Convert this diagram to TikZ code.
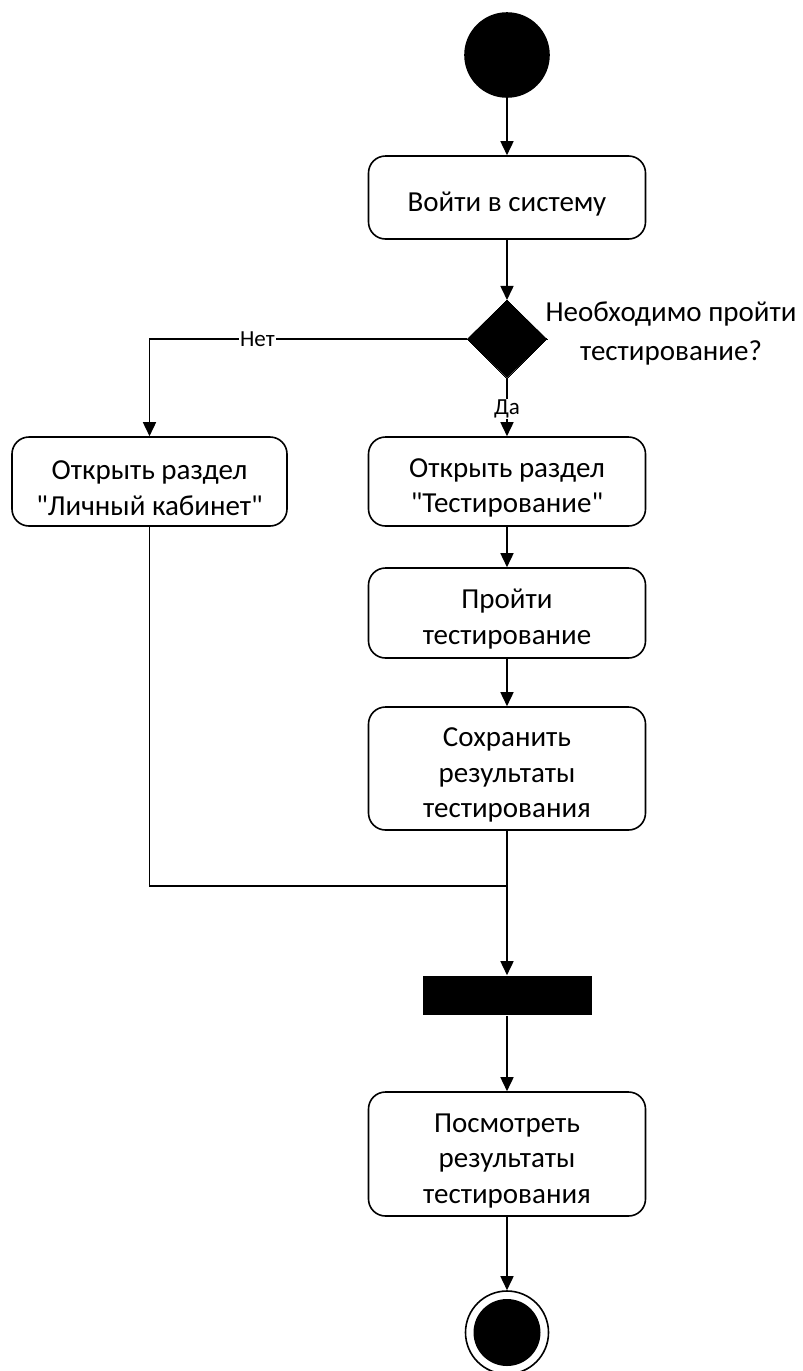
\documentclass[tikz,border=0pt]{standalone}
\usepackage{fontspec}
\setmainfont{Carlito}[Ligatures=TeXOff]
\usetikzlibrary{shapes.geometric,arrows.meta}
\newcommand{\upstrut}{\rule{0pt}{32pt}}
\begin{document}
\begin{tikzpicture}[x=1pt,y=-1pt,
  line width=1.6pt,
  arr/.style={-{Triangle[width=13pt,length=14pt]}},
  act/.style={draw,rectangle,rounded corners=17pt,inner sep=0pt,align=center,
    font=\fontsize{29}{35.5}\selectfont,fill=white},
  lbl/.style={fill=white,inner sep=1pt,font=\fontsize{23}{26}\selectfont},
]
\useasboundingbox (0,0) rectangle (803,1371);
\node[circle,fill=black,draw,minimum size=84pt,inner sep=0pt] (start) at (507,55) {};
\node[act,minimum width=277pt,minimum height=83pt] (login) at (507,197.5) {\upstrut Войти в систему};
\node[diamond,fill=black,draw,minimum width=80pt,minimum height=78pt,inner sep=0pt,line width=0pt] (dec) at (507,339) {};
\node[align=center,font=\fontsize{29}{39}\selectfont] (q) at (671,333.5) {Необходимо пройти\\тестирование?};
\node[act,minimum width=275pt,minimum height=89pt] (lk) at (149.5,481.5) {\upstrut Открыть раздел\\"Личный кабинет"};
\node[act,minimum width=277pt,minimum height=89pt] (test) at (507,481.5) {\upstrut Открыть раздел\\"Тестирование"};
\node[act,minimum width=277pt,minimum height=90pt] (pass) at (507,613) {\upstrut Пройти\\тестирование};
\node[act,minimum width=277pt,minimum height=123pt] (save) at (507,768.5) {\upstrut Сохранить\\результаты\\тестирования};
\node[rectangle,fill=black,minimum width=169pt,minimum height=39pt,inner sep=0pt] (bar) at (507,995.5) {};
\node[act,minimum width=277pt,minimum height=124pt] (view) at (507,1154) {\upstrut Посмотреть\\результаты\\тестирования};
\node[circle,draw,fill=white,minimum size=83pt,inner sep=0pt] (end) at (507,1332.5) {};
\node[circle,fill=black,minimum size=67pt,inner sep=0pt] (endin) at (end.center) {};
\coordinate (ncorner) at (149.5,339);
\coordinate (join) at (507,886);
\draw[arr] (start) -- (login);
\draw[arr] (login) -- (dec);
\draw[arr] (dec.west) -- node[lbl,pos=0.66] {Нет} (ncorner) -- (lk.north);
\draw[arr] (dec.south) -- node[lbl,pos=0.53] {Да} (test.north);
\draw[arr] (test) -- (pass);
\draw[arr] (pass) -- (save);
\draw (lk.south) |- (join);
\draw[arr] (save.south) -- (bar.north);
\draw[arr] (bar.south) -- (view.north);
\draw[arr] (view.south) -- (end.north);
\end{tikzpicture}
\end{document}
